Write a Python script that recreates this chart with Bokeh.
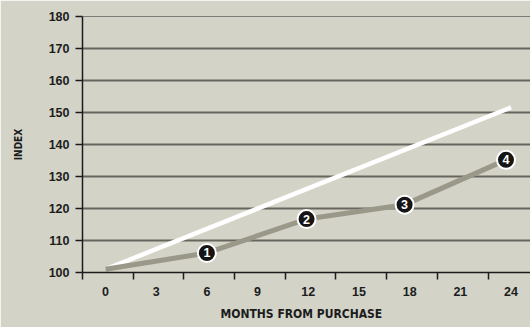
import math
from bokeh.plotting import figure
from bokeh.models import Range1d, FixedTicker, Span, Title, ColumnDataSource
from bokeh.core.properties import value
from bokeh.embed import file_html
from bokeh.resources import INLINE

# ---- data ----
months_white = [0, 24]
index_white = [101, 151.6]

months_gray = [0, 6, 11.9, 17.7, 23.7]
index_gray = [101, 106.1, 116.7, 121.2, 135.2]

marker_months = [6, 11.9, 17.7, 23.7]
marker_index = [106.1, 116.7, 121.2, 135.2]
marker_text = ["1", "2", "3", "4"]

x_tick_values = [0, 3, 6, 9, 12, 15, 18, 21, 24]
y_tick_values = [100, 110, 120, 130, 140, 150, 160, 170, 180]
y_grid_values = [110, 120, 130, 140, 150, 160, 170]

BG = "#d3d3c7"
GRID = "#66665f"
GRAY = "#9a9888"
INK = "#1c1c1c"
COND = "'Liberation Sans Narrow', 'DejaVu Sans Condensed', sans-serif"
REG = "'Liberation Sans', Arial, sans-serif"

p = figure(width=530, height=327, output_backend="svg", toolbar_location=None,
           x_range=Range1d(-1.36, 25.15), y_range=Range1d(100, 180),
           min_border_left=82, min_border_right=0, min_border_top=16,
           min_border_bottom=54)
p.background_fill_color = BG
p.border_fill_color = BG
p.outline_line_color = None

# y axis
ya = p.yaxis[0]
ya.ticker = FixedTicker(ticks=y_tick_values)
ya.axis_line_color = INK
ya.axis_line_width = 1.5
ya.major_tick_out = 7
ya.major_tick_in = 0
ya.major_tick_line_color = INK
ya.major_tick_line_width = 1.5
ya.minor_tick_line_color = None
ya.major_label_standoff = 6
ya.major_label_text_font = REG
ya.major_label_text_font_style = "bold"
ya.major_label_text_font_size = "12.5px"
ya.major_label_text_color = INK
ya.axis_label = "INDEX"
ya.axis_label_standoff = 22
ya.axis_label_text_font = COND
ya.axis_label_text_font_style = "bold"
ya.axis_label_text_font_size = "10px"
ya.axis_label_text_color = INK

# x axis: labels at 0,3,..; tick marks between labels
minor = [-1.36 + 3 * k for k in range(9)]
xa = p.xaxis[0]
xa.ticker = FixedTicker(ticks=x_tick_values, minor_ticks=minor)
xa.axis_line_color = INK
xa.axis_line_width = 1.5
xa.major_tick_out = 0
xa.major_tick_in = 0
xa.major_tick_line_color = None
xa.minor_tick_out = 7
xa.minor_tick_in = 0
xa.minor_tick_line_color = INK
xa.minor_tick_line_width = 1.5
xa.major_label_standoff = 7
xa.major_label_text_font = REG
xa.major_label_text_font_style = "bold"
xa.major_label_text_font_size = "12.5px"
xa.major_label_text_color = INK

# grid
p.xgrid.grid_line_color = None
p.ygrid.ticker = FixedTicker(ticks=y_grid_values)
p.ygrid.grid_line_color = GRID
p.ygrid.grid_line_width = 2
p.add_layout(Span(location=180, dimension="width", line_color=INK, line_width=1.2))

# lines
p.line(months_white, index_white, line_color="white", line_width=4.5)
p.line(months_gray, index_gray, line_color=GRAY, line_width=5)

src = ColumnDataSource(dict(x=marker_months, y=marker_index, t=marker_text))
p.scatter("x", "y", source=src, size=18, fill_color="#151515",
          line_color="white", line_width=2)
p.text("x", "y", text="t", source=src, text_color="white",
       text_font=value(REG), text_font_style="bold", text_font_size="12.5px",
       text_align="center", text_baseline="middle")

# x axis title
t = Title(text="MONTHS FROM PURCHASE", align="left", offset=138, standoff=13,
          text_font=COND, text_font_style="bold", text_font_size="12px",
          text_color=INK)
p.add_layout(t, "below")

open("out.html", "w").write(file_html(p, INLINE))
